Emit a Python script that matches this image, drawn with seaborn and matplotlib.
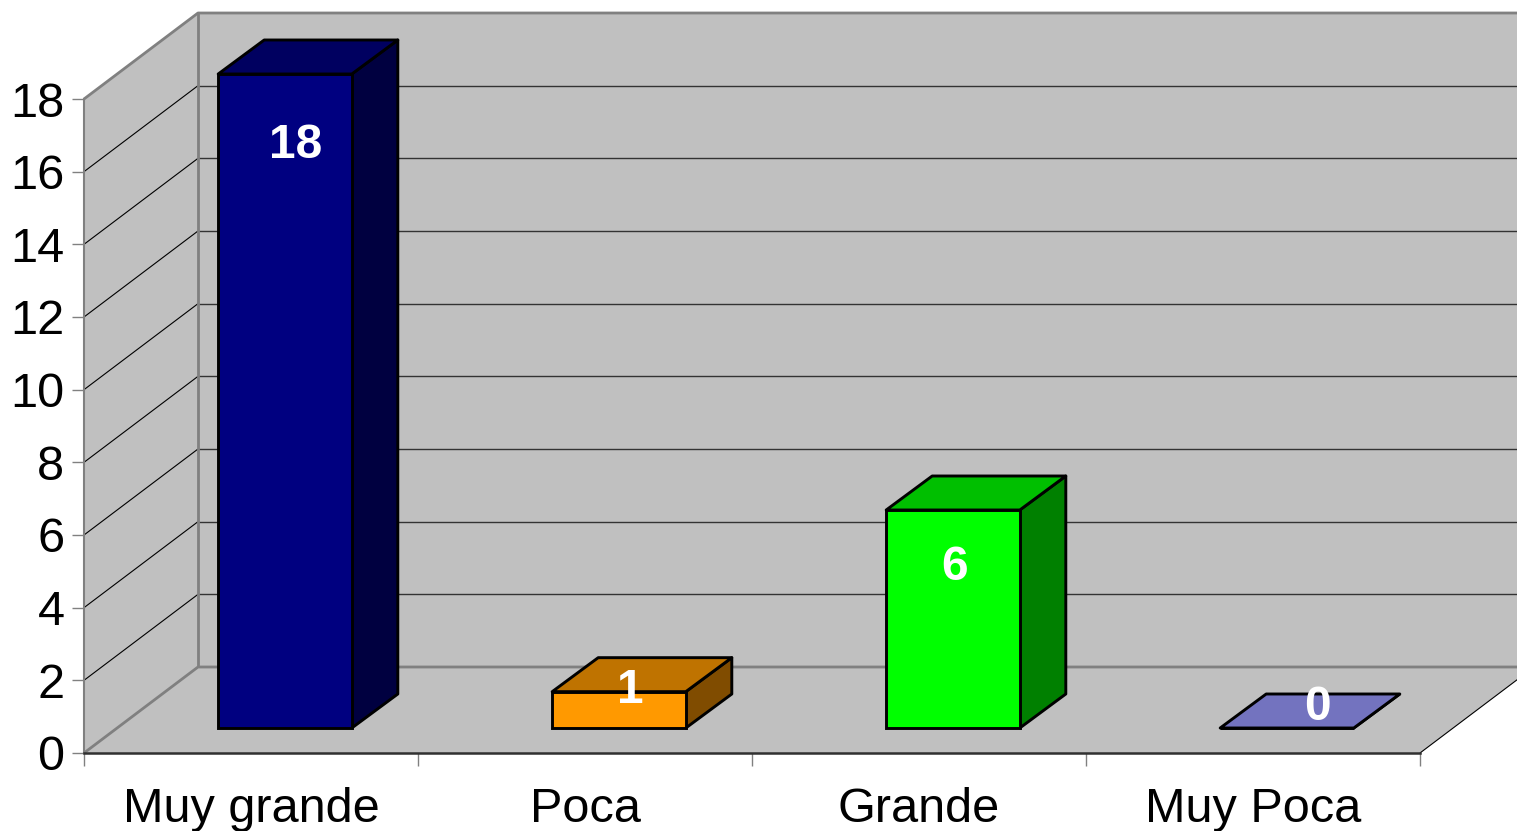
#!/usr/bin/env python3
import matplotlib
matplotlib.use("Agg")
import matplotlib.pyplot as plt
from matplotlib.patches import Polygon
from matplotlib.transforms import IdentityTransform
import seaborn as sns

# ── Data ──────────────────────────────────────────────────────────────────────
CATEGORIES = ["Muy grande", "Poca", "Grande", "Muy Poca"]
VALUES = [18, 1, 6, 0]
Y_TICKS = [0, 2, 4, 6, 8, 10, 12, 14, 16, 18]

# ── Style ─────────────────────────────────────────────────────────────────────
FRONT = ["#000080", "#FF9900", "#00FF00", "#9999FF"]
TOP = ["#000060", "#BF7300", "#00BF00", "#7373BF"]
SIDE = ["#000040", "#804C00", "#008000", "#4D4D80"]
WALL = "#C0C0C0"
EDGE = "#808080"
W, H = 1517, 831
LEFT, RIGHT, BOTTOM, TOP_PX = 84, 1420, 753, 99
WALL_DX, WALL_DY = 114, 86     # depth of the walls, px
BAR_DX, BAR_DY = 46, 34        # depth of a bar, px
SHIFT_X, SHIFT_Y = 34, 25      # front face of the bars relative to the axis, px
LABEL_OFFSET = [(11, -71), (11, 1), (2, -58), (30, 20)]  # value labels, px

sns.set_theme(style="white")
plt.rcParams["font.family"] = ["Liberation Sans", "DejaVu Sans"]

fig = plt.figure(figsize=(W / 100, H / 100), dpi=100)
rect = [LEFT / W, (H - BOTTOM) / H, (RIGHT - LEFT) / W, (BOTTOM - TOP_PX) / H]
ax = fig.add_axes(rect)
ax.set_xlim(-0.5, len(CATEGORIES) - 0.5)
ax.set_ylim(0, max(Y_TICKS))
ax.patch.set_visible(False)


def poly(target, pts, **kw):
    target.add_patch(Polygon(pts, closed=True, transform=IdentityTransform(),
                             clip_on=False, **kw))


def line(target, pts, color, lw):
    xs, ys = zip(*pts)
    target.plot(xs, ys, color=color, lw=lw, transform=IdentityTransform(),
                clip_on=False, solid_capstyle="butt", zorder=2)


# ── Walls and floor ───────────────────────────────────────────────────────────
x0, y0 = ax.transData.transform((-0.5, 0))
x1, y1 = ax.transData.transform((len(CATEGORIES) - 0.5, max(Y_TICKS)))
poly(ax, [(x0 + WALL_DX, y0 + WALL_DY), (x1 + WALL_DX, y0 + WALL_DY),
          (x1 + WALL_DX, y1 + WALL_DY), (x0 + WALL_DX, y1 + WALL_DY)],
     facecolor=WALL, edgecolor="none", zorder=1)
poly(ax, [(x0, y0), (x0 + WALL_DX, y0 + WALL_DY), (x0 + WALL_DX, y1 + WALL_DY), (x0, y1)],
     facecolor=WALL, edgecolor="none", zorder=1)
poly(ax, [(x0, y0), (x1, y0), (x1 + WALL_DX, y0 + WALL_DY), (x0 + WALL_DX, y0 + WALL_DY)],
     facecolor=WALL, edgecolor="none", zorder=1)

for tick in Y_TICKS[1:-1]:
    _, yt = ax.transData.transform((0, tick))
    line(ax, [(x0, yt), (x0 + WALL_DX, yt + WALL_DY)], "#000000", 0.8)
    line(ax, [(x0 + WALL_DX, yt + WALL_DY), (x1 + WALL_DX, yt + WALL_DY)], "#333333", 1.0)

line(ax, [(x0, y0), (x0 + WALL_DX, y0 + WALL_DY), (x1 + WALL_DX, y0 + WALL_DY)], EDGE, 2.0)
line(ax, [(x0, y1), (x0 + WALL_DX, y1 + WALL_DY), (x1 + WALL_DX, y1 + WALL_DY)], EDGE, 2.0)
line(ax, [(x0 + WALL_DX, y0 + WALL_DY), (x0 + WALL_DX, y1 + WALL_DY)], EDGE, 2.0)
line(ax, [(x1, y0), (x1 + WALL_DX, y0 + WALL_DY)], "#000000", 0.8)

# ── Axes ──────────────────────────────────────────────────────────────────────
ax.set_yticks(Y_TICKS)
ax.set_xticks(range(len(CATEGORIES)))
ax.set_xticklabels(CATEGORIES)
ax.set_xticks([i - 0.5 for i in range(len(CATEGORIES) + 1)], minor=True)
ax.tick_params(axis="y", length=8.6, width=1.0, color=EDGE, labelsize=35, pad=5.5, left=True)
ax.tick_params(axis="x", which="major", length=0, labelsize=35, pad=24.5, bottom=False)
ax.tick_params(axis="x", which="minor", length=9, width=1.0, color=EDGE, bottom=True)
for name in ["top", "right"]:
    ax.spines[name].set_visible(False)
ax.spines["left"].set_color(EDGE)
ax.spines["left"].set_linewidth(1.5)
ax.spines["bottom"].set_color("#303030")
ax.spines["bottom"].set_linewidth(1.8)
for label in ax.get_xticklabels() + ax.get_yticklabels():
    label.set_color("black")

# ── Bars ──────────────────────────────────────────────────────────────────────
ax_bars = fig.add_axes([rect[0] + SHIFT_X / W, rect[1] + SHIFT_Y / H, rect[2], rect[3]])
sns.barplot(x=CATEGORIES, y=VALUES, hue=CATEGORIES, palette=FRONT, saturation=1,
            width=0.4, legend=False, edgecolor="black", linewidth=2.1, ax=ax_bars)
ax_bars.set_xlim(-0.5, len(CATEGORIES) - 0.5)
ax_bars.set_ylim(0, max(Y_TICKS))
ax_bars.axis("off")

for i, bar in enumerate(ax_bars.patches):
    bar.set_clip_on(False)
    bar.set_zorder(4)
    bx0, by0 = ax_bars.transData.transform((bar.get_x(), 0))
    bx1, by1 = ax_bars.transData.transform((bar.get_x() + bar.get_width(), bar.get_height()))
    style = dict(edgecolor="black", linewidth=2.1, joinstyle="round", zorder=3)
    poly(ax_bars, [(bx1, by0), (bx1 + BAR_DX, by0 + BAR_DY),
                   (bx1 + BAR_DX, by1 + BAR_DY), (bx1, by1)],
         facecolor=SIDE[i], **style)
    poly(ax_bars, [(bx0, by1), (bx1, by1), (bx1 + BAR_DX, by1 + BAR_DY),
                   (bx0 + BAR_DX, by1 + BAR_DY)],
         facecolor=TOP[i], **style)
    dx, dy = LABEL_OFFSET[i]
    ax_bars.annotate(str(VALUES[i]), (bar.get_x() + bar.get_width() / 2, bar.get_height()),
                     xytext=(dx * 0.72, dy * 0.72), textcoords="offset points",
                     ha="center", va="center", color="white", fontsize=34.5,
                     fontweight="bold", zorder=6, annotation_clip=False)

fig.savefig("out.png", dpi=100, facecolor="white")
plt.close(fig)
